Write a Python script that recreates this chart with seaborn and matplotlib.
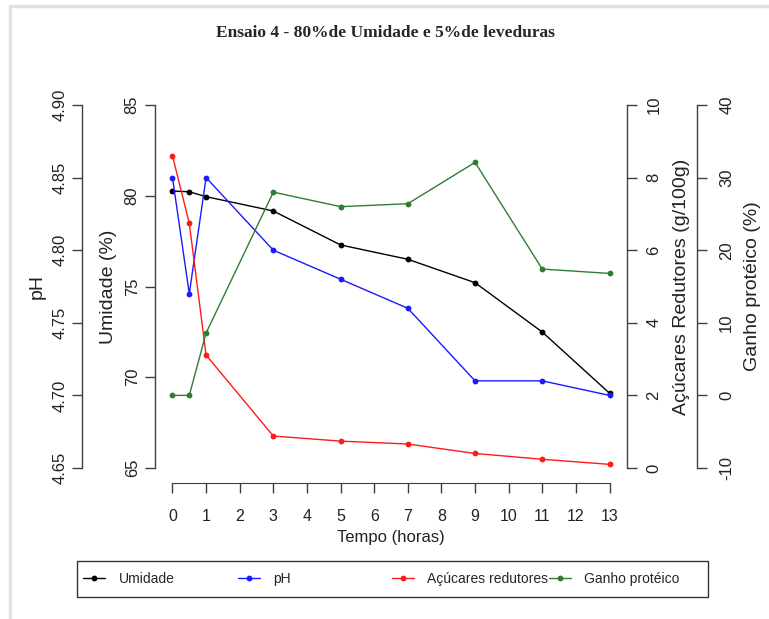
import matplotlib
matplotlib.use("Agg")
import matplotlib.pyplot as plt
from matplotlib.patches import Rectangle
from matplotlib.lines import Line2D
from matplotlib.ticker import FormatStrFormatter
import seaborn as sns

# Sampling times (hours)
tempo = [0, 0.5, 1, 3, 5, 7, 9, 11, 13]

# Measured series
umidade = [80.26, 80.22, 79.95, 79.16, 77.29, 76.50, 75.21, 72.49, 69.12]
ph = [4.85, 4.77, 4.85, 4.80, 4.78, 4.76, 4.71, 4.71, 4.70]
acucares = [8.60, 6.74, 3.11, 0.88, 0.74, 0.66, 0.40, 0.24, 0.10]
ganho = [0.0, 0.0, 8.6, 28.0, 26.0, 26.4, 32.1, 17.4, 16.8]

# Axis ticks
x_ticks = list(range(0, 14))
umid_ticks = [65, 70, 75, 80, 85]
ph_ticks = [4.65, 4.70, 4.75, 4.80, 4.85, 4.90]
acu_ticks = [0, 2, 4, 6, 8, 10]
ganho_ticks = [-10, 0, 10, 20, 30, 40]

titulo = "Ensaio 4 - 80%de Umidade e 5%de leveduras"
nomes = ["Umidade", "pH", "Açúcares redutores", "Ganho protéico"]
cores = ["black", "#1a1aff", "#ff1a1a", "#2e7d32"]

sns.set_style("white")
plt.rcParams["font.family"] = ["Liberation Sans", "DejaVu Sans"]

W, H = 769, 619
fig = plt.figure(figsize=(W / 100, H / 100), dpi=100)
fig.patch.set_facecolor("white")

L, R, T, B = 155, 627, 90.5, 482.5
ax = fig.add_axes([L / W, 1 - B / H, (R - L) / W, (B - T) / H])

axis_col = "#404040"
txt_col = "#222222"


def pad_range(lo, hi, f=0.04):
    d = (hi - lo) * f
    return lo - d, hi + d


def style_axis(a, side, ticks, lim, fmt, pad, offset=0):
    a.set_ylim(*pad_range(*lim))
    for s in ["top", "right", "left", "bottom"]:
        a.spines[s].set_visible(False)
    sp = a.spines[side]
    sp.set_visible(True)
    sp.set_color(axis_col)
    sp.set_linewidth(1.0)
    sp.set_bounds(lim[0], lim[1])
    if offset:
        sp.set_position(("outward", offset))
    if side == "left":
        a.yaxis.tick_left()
    else:
        a.yaxis.tick_right()
    a.set_yticks(ticks)
    a.yaxis.set_major_formatter(FormatStrFormatter(fmt))
    a.tick_params(axis="y", direction="out", length=7, width=1.0,
                  color=axis_col, labelsize=12, pad=pad, labelrotation=90,
                  labelcolor=txt_col)
    for lbl in a.get_yticklabels():
        lbl.set_va("center")


lw, ms = 1.0, 4.2

# Umidade (main axis)
sns.lineplot(x=tempo, y=umidade, ax=ax, color=cores[0], marker="o",
             markersize=ms, markeredgewidth=0, linewidth=lw)
ax.set_xlim(-0.52, 13.52)
style_axis(ax, "left", umid_ticks, (65, 85), "%d", 4)
ax.spines["bottom"].set_visible(True)
ax.spines["bottom"].set_color(axis_col)
ax.spines["bottom"].set_bounds(0, 13)
ax.set_xticks(x_ticks)
ax.tick_params(axis="x", bottom=True, direction="out", length=7, width=1.0,
               color=axis_col, labelsize=11.5, pad=12, labelcolor=txt_col)
ax.set_xlabel("Tempo (horas)", fontsize=12, color=txt_col)
ax.xaxis.set_label_coords(0.5, (B - 530) / (B - T))
ax.set_ylabel("Umidade (%)", fontsize=14, color=txt_col)
ax.yaxis.set_label_coords((117 - L) / (R - L), 0.5)

# pH (outer left axis)
ax_ph = ax.twinx()
sns.lineplot(x=tempo, y=ph, ax=ax_ph, color=cores[1], marker="o",
             markersize=ms, markeredgewidth=0, linewidth=lw)
style_axis(ax_ph, "left", ph_ticks, (4.65, 4.90), "%.2f", 3, offset=(L - 82) * 0.72)
ax_ph.yaxis.set_label_position("left")
ax_ph.set_ylabel("pH", fontsize=14, color=txt_col)
ax_ph.yaxis.set_label_coords((46 - L) / (R - L), 0.5)

# Açúcares redutores (inner right axis)
ax_ac = ax.twinx()
sns.lineplot(x=tempo, y=acucares, ax=ax_ac, color=cores[2], marker="o",
             markersize=ms, markeredgewidth=0, linewidth=lw)
style_axis(ax_ac, "right", acu_ticks, (0, 10), "%d", 7)
ax_ac.yaxis.set_label_position("right")
ax_ac.set_ylabel("Açúcares Redutores (g/100g)", fontsize=14, color=txt_col)
ax_ac.yaxis.set_label_coords((673 - L) / (R - L), 0.5)

# Ganho protéico (outer right axis)
ax_gp = ax.twinx()
sns.lineplot(x=tempo, y=ganho, ax=ax_gp, color=cores[3], marker="o",
             markersize=ms, markeredgewidth=0, linewidth=lw)
style_axis(ax_gp, "right", ganho_ticks, (-10, 40), "%d", 9, offset=(697 - R) * 0.72)
ax_gp.yaxis.set_label_position("right")
ax_gp.set_ylabel("Ganho protéico (%)", fontsize=14, color=txt_col)
ax_gp.yaxis.set_label_coords((744 - L) / (R - L), 0.5)

for a in (ax_ph, ax_ac, ax_gp):
    a.set_xlim(-0.52, 13.52)

# Title
fig.text(385 / W, 1 - 33 / H, titulo, ha="center", va="center",
         fontsize=12.5, fontweight="bold", family="Liberation Serif")

# Legend box with four entries
fig.add_artist(Rectangle((77 / W, 1 - 597 / H), (708 - 77) / W, 36 / H,
                         transform=fig.transFigure, fill=False,
                         edgecolor="#333333", linewidth=1.0))
handles = [ax.get_lines()[0], ax_ph.get_lines()[0],
           ax_ac.get_lines()[0], ax_gp.get_lines()[0]]
starts = [83, 238, 392, 549]
for h, nome, x0 in zip(handles, nomes, starts):
    fig.legend(handles=[h], labels=[nome], loc="center left",
               bbox_to_anchor=(x0 / W, 1 - 579 / H), frameon=False,
               borderpad=0, borderaxespad=0, handlelength=1.6,
               handletextpad=0.95, fontsize=10, numpoints=1)

# Light page border
fig.add_artist(Line2D([10 / W, 10 / W], [0, 1 - 6 / H], transform=fig.transFigure,
                      color="#e2e2e2", linewidth=2.5))
fig.add_artist(Line2D([10 / W, 1], [1 - 6 / H, 1 - 6 / H], transform=fig.transFigure,
                      color="#e2e2e2", linewidth=2.5))

fig.savefig("out.png", dpi=100, facecolor="white")
